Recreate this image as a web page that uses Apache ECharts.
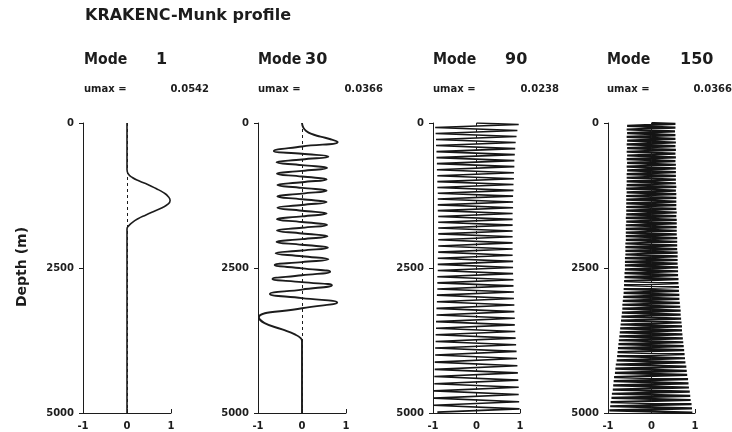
<!DOCTYPE html>
<html><head><meta charset="utf-8">
<script src="https://cdn.jsdelivr.net/npm/echarts@6/dist/echarts.min.js"></script>
<style>html,body{margin:0;padding:0;background:#fff}#c{width:732px;height:432px}</style>
</head><body><div id="c"></div><script>
// ---------------- data ----------------
const chartTitle = 'KRAKENC-Munk profile';
const yAxisName = 'Depth (m)';
const modeNumbers = ['1', '30', '90', '150'];
const umaxValues = ['0.0542', '0.0366', '0.0238', '0.0366'];
const depthTicks = [0, 2500, 5000];
const ampTicks = [-1, 0, 1];

const mode1Depth = [0, 800, 880, 940, 1000, 1060, 1130, 1200, 1270, 1335, 1400, 1460, 1520, 1585, 1650, 1720, 1780, 1830, 5000];
const mode1Value = [0, 0, 0.03, 0.12, 0.28, 0.47, 0.66, 0.83, 0.94, 0.98, 0.93, 0.8, 0.62, 0.43, 0.25, 0.11, 0.03, 0, 0];

const mode30Depth = [0, 80, 140, 185, 235, 280, 327, 405, 482, 531, 580, 629, 678, 727, 776, 825, 874, 923, 972, 1021,
  1070, 1119, 1168, 1217, 1266, 1315, 1364, 1413, 1463, 1512, 1561, 1610, 1659, 1708, 1757, 1806, 1855, 1904, 1953, 2002,
  2051, 2100, 2149, 2198, 2247, 2298, 2350, 2399, 2448, 2506, 2564, 2626, 2689, 2743, 2798, 2872, 2947, 3020, 3094, 3194,
  3352, 3450, 3560, 3650, 3710, 3760, 5000];
const mode30Value = [0, 0.03, 0.1, 0.2, 0.42, 0.65, 0.81, 0, -0.64, 0, 0.6, 0, -0.58, 0, 0.57, 0, -0.57, 0, 0.56, 0,
  -0.56, 0, 0.56, 0, -0.56, 0, 0.56, 0, -0.56, 0, 0.56, 0, -0.57, 0, 0.57, 0, -0.57, 0, 0.58, 0,
  -0.58, 0, 0.59, 0, -0.6, 0, 0.6, 0, -0.62, 0, 0.64, 0, -0.67, 0, 0.68, 0, -0.73, 0, 0.8, 0,
  -0.98, -0.85, -0.45, -0.15, -0.03, 0, 0];

const mode90Depth = [0, 25, 77, 129, 181, 233, 285, 337, 389, 441, 493, 545, 597, 649, 701, 753, 805, 857, 909, 961, 1011,
  1061, 1111, 1161, 1211, 1261, 1311, 1361, 1411, 1461, 1511, 1561, 1611, 1661, 1711, 1761, 1811, 1861, 1911, 1961, 2014,
  2067, 2120, 2173, 2226, 2279, 2332, 2385, 2438, 2491, 2544, 2597, 2650, 2703, 2756, 2809, 2862, 2915, 2968, 3025, 3082,
  3139, 3196, 3253, 3310, 3367, 3424, 3481, 3538, 3595, 3652, 3709, 3766, 3823, 3880, 3937, 3999, 4061, 4123, 4185, 4247,
  4309, 4371, 4433, 4495, 4557, 4619, 4681, 4743, 4805, 4867, 4929, 4985];
const mode90Value = [0,
  0.97, -0.95, 0.94, -0.94, 0.92, -0.93, 0.90, -0.93, 0.89, -0.92,
  0.88, -0.92, 0.87, -0.91, 0.87, -0.91, 0.86, -0.90, 0.86, -0.90,
  0.85, -0.90, 0.85, -0.89, 0.84, -0.89, 0.84, -0.89, 0.84, -0.89,
  0.83, -0.88, 0.83, -0.88, 0.83, -0.88, 0.83, -0.88, 0.83, -0.88,
  0.83, -0.88, 0.83, -0.88, 0.83, -0.89, 0.84, -0.89, 0.84, -0.89,
  0.84, -0.90, 0.85, -0.90, 0.85, -0.90, 0.86, -0.91, 0.86, -0.91,
  0.87, -0.92, 0.87, -0.92, 0.88, -0.93, 0.88, -0.93, 0.89, -0.94,
  0.90, -0.94, 0.91, -0.95, 0.92, -0.95, 0.93, -0.96, 0.94, -0.96,
  0.95, -0.97, 0.96, -0.97, 0.97, -0.98, 0.97, -0.98, 0.98, -0.99,
  0.99, -0.9];

const mode150Depth = [0,
  16, 48, 80, 112, 144, 176, 208, 240, 272, 304, 336, 368, 400, 432, 464, 496, 528, 560, 592, 624,
  656, 688, 720, 752, 784, 816, 848, 880, 912, 944, 976,
  1007, 1039, 1070, 1102, 1133, 1165, 1196, 1228, 1259, 1291, 1322, 1354, 1385, 1417, 1448, 1480, 1511, 1543, 1574, 1606,
  1637, 1669, 1700, 1732, 1763, 1795, 1826, 1858, 1889, 1921, 1952, 1984, 2015, 2047, 2078, 2110, 2141, 2173, 2204, 2236,
  2267, 2299, 2330, 2362, 2393, 2425, 2456, 2488,
  2522, 2556, 2590, 2624, 2658, 2692, 2726, 2760, 2794, 2828, 2862, 2896, 2930, 2964, 2998, 3032, 3066, 3100, 3134, 3168,
  3202, 3236, 3270, 3304, 3338, 3372, 3406, 3440, 3474, 3508, 3542, 3576, 3610, 3644, 3678, 3712, 3746, 3780, 3814, 3848,
  3882, 3916, 3950, 3984,
  4020, 4056, 4092, 4128, 4164, 4200, 4236, 4272, 4308, 4344, 4380, 4416, 4452, 4488, 4524, 4560, 4596, 4632, 4668, 4704,
  4740, 4776, 4812, 4848, 4884, 4920, 4956, 4992];
const mode150Value = [0,
  0.55, -0.56, 0.55, -0.57, 0.54, -0.56, 0.55, -0.57, 0.55, -0.56, 0.56, -0.57, 0.55, -0.56, 0.56, -0.57, 0.55, -0.56, 0.56, -0.57,
  0.55, -0.56, 0.56, -0.57, 0.56, -0.56, 0.56, -0.57, 0.56, -0.57, 0.56,
  -0.57, 0.56, -0.57, 0.57, -0.58, 0.56, -0.57, 0.57, -0.58, 0.57, -0.58, 0.57, -0.58, 0.57, -0.58, 0.57, -0.58, 0.58, -0.58, 0.57,
  -0.59, 0.58, -0.58, 0.58, -0.59, 0.58, -0.59, 0.58, -0.59, 0.58, -0.59, 0.59, -0.59, 0.59, -0.60, 0.59, -0.60, 0.59, -0.60, 0.60,
  -0.60, 0.60, -0.61, 0.60, -0.61, 0.60, -0.61, 0.61,
  -0.61, 0.61, -0.62, 0.61, -0.62, 0.62, -0.63, 0.62, -0.63, 0.63, -0.64, 0.63, -0.64, 0.64, -0.65, 0.64, -0.66, 0.65, -0.67, 0.66,
  -0.67, 0.67, -0.68, 0.67, -0.69, 0.68, -0.70, 0.69, -0.71, 0.70, -0.72, 0.70, -0.73, 0.71, -0.74, 0.72, -0.75, 0.73, -0.76, 0.74,
  -0.77, 0.75, -0.78, 0.76,
  -0.79, 0.77, -0.80, 0.78, -0.82, 0.80, -0.83, 0.81, -0.84, 0.82, -0.86, 0.84, -0.87, 0.85, -0.88, 0.86, -0.89, 0.88, -0.91, 0.89,
  -0.92, 0.90, -0.94, 0.92, -0.95, 0.93, -0.97, 0.94];

// ---------------- layout / style ----------------
const INK = '#1c1c1c';
const FONT = '"DejaVu Sans", sans-serif';
const panelLeft = [83, 258, 433, 608];
const panelWidth = [88, 88, 87, 87];
const panelTop = 123, panelHeight = 290;
const modeX = [84, 258, 433, 607];
const modeNumX = [156, 305, 505, 680];
const umaxX = [84, 258, 433, 607];
const umaxNumRight = [209, 383, 559, 732];
const curveWidth = [1.6, 1.9, 1.6, 2.2];
const curveColor = ['#1c1c1c', '#1c1c1c', '#161616', '#141414'];
const curveSmooth = [0.5, 0.5, false, false];

const depths = [mode1Depth, mode30Depth, mode90Depth, mode150Depth];
const values = [mode1Value, mode30Value, mode90Value, mode150Value];

function txt(x, y, text, font, align, extra) {
  return Object.assign({ type: 'text', x: x, y: y,
    style: { text: text, font: font, fill: INK, align: align, verticalAlign: 'middle', textAlign: align, textVerticalAlign: 'middle' } }, extra || {});
}

const grid = [], xAxis = [], yAxis = [], series = [], graphic = [];
for (let i = 0; i < 4; i++) {
  grid.push({ left: panelLeft[i], top: panelTop, width: panelWidth[i], height: panelHeight, containLabel: false });
  xAxis.push({
    gridIndex: i, type: 'value', min: ampTicks[0], max: ampTicks[2], interval: ampTicks[1] - ampTicks[0],
    axisLine: { show: true, onZero: false, lineStyle: { color: INK, width: 1 } },
    axisTick: { show: true, inside: true, length: 4, lineStyle: { color: INK, width: 1 } },
    axisLabel: { show: true, margin: 8, color: INK, fontSize: 10, fontWeight: 'bold', fontFamily: FONT,
      formatter: v => String(v) },
    splitLine: { show: false }
  });
  yAxis.push({
    gridIndex: i, type: 'value', inverse: true, min: depthTicks[0], max: depthTicks[2], interval: depthTicks[1] - depthTicks[0],
    axisLine: { show: true, onZero: false, lineStyle: { color: INK, width: 1 } },
    axisTick: { show: true, inside: false, length: 4, lineStyle: { color: INK, width: 1 } },
    axisLabel: { show: true, margin: 9, color: INK, fontSize: 10, fontWeight: 'bold', fontFamily: FONT,
      formatter: v => String(v) },
    splitLine: { show: false }
  });
  const data = depths[i].map((d, k) => [values[i][k], d]);
  series.push({
    type: 'line', xAxisIndex: i, yAxisIndex: i, data: data,
    showSymbol: false, symbol: 'none', smooth: curveSmooth[i],
    lineStyle: { color: curveColor[i], width: curveWidth[i] },
    silent: true,
    markLine: {
      silent: true, symbol: ['none', 'none'], label: { show: false },
      lineStyle: { color: INK, width: 1, type: [3, 3] },
      data: [{ xAxis: 0 }]
    }
  });
  graphic.push(txt(modeX[i], 60, 'Mode', 'bold 16px ' + FONT, 'left', { scaleX: 0.88 }));
  graphic.push(txt(modeNumX[i], 60, modeNumbers[i], 'bold 16px ' + FONT, 'left'));
  graphic.push(txt(umaxX[i], 89, 'umax =', 'bold 10px ' + FONT, 'left'));
  graphic.push(txt(umaxNumRight[i], 89, umaxValues[i], 'bold 10px ' + FONT, 'right'));
}
graphic.push(txt(85, 16, chartTitle, 'bold 16px ' + FONT, 'left'));
graphic.push(txt(22, 267, yAxisName, 'bold 14px ' + FONT, 'center', { rotation: Math.PI / 2 }));

const chart = echarts.init(document.getElementById('c'), null, { renderer: 'canvas' });
chart.setOption({ animation: false, backgroundColor: '#ffffff', grid, xAxis, yAxis, series, graphic });
</script></body></html>
